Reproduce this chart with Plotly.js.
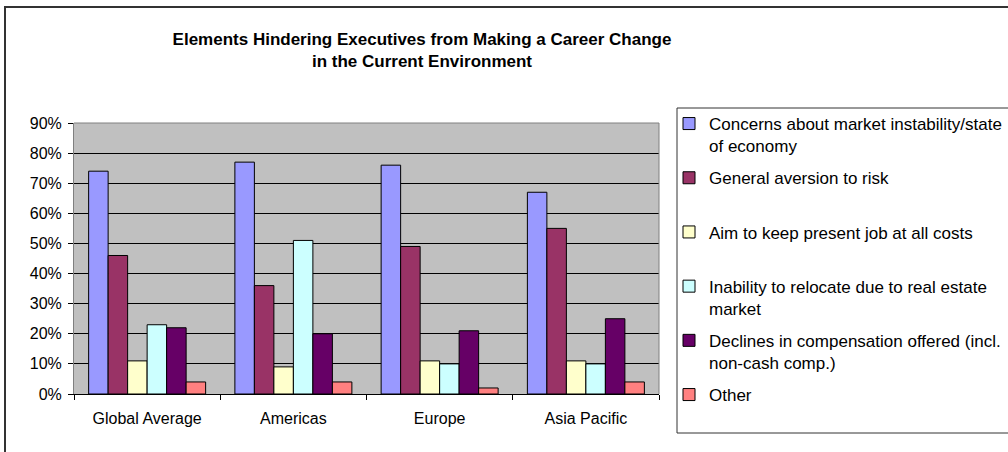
<!DOCTYPE html>
<html>
<head>
<meta charset="utf-8">
<script src="https://cdn.plot.ly/plotly-3.0.1.min.js"></script>
<style>
  html, body { margin: 0; padding: 0; background: #fff; }
  #chart { width: 1008px; height: 452px; }
</style>
</head>
<body>
<div id="chart"></div>
<script>
const categories = ['Global Average', 'Americas', 'Europe', 'Asia Pacific'];

const seriesNames = [
  'Concerns about market instability/state<br>of economy',
  'General aversion to risk<br> ',
  'Aim to keep present job at all costs<br> ',
  'Inability to relocate due to real estate<br>market',
  'Declines in compensation offered (incl.<br>non-cash comp.)',
  'Other<br> '
];

const concerns   = [0.74, 0.77, 0.76, 0.67];
const aversion   = [0.46, 0.36, 0.49, 0.55];
const keepJob    = [0.11, 0.09, 0.11, 0.11];
const relocate   = [0.23, 0.51, 0.10, 0.10];
const declines   = [0.22, 0.20, 0.21, 0.25];
const other      = [0.04, 0.04, 0.02, 0.04];

const seriesValues = [concerns, aversion, keepJob, relocate, declines, other];
const seriesColors = ['#9999FF', '#993366', '#FFFFCC', '#CCFFFF', '#660066', '#FF8080'];

const yTickVals = [0, 0.1, 0.2, 0.3, 0.4, 0.5, 0.6, 0.7, 0.8, 0.9];
const yTickText = ['0%', '10%', '20%', '30%', '40%', '50%', '60%', '70%', '80%', '90%'];

const FONT = 'Liberation Sans, Arial, sans-serif';

const traces = seriesValues.map((vals, i) => ({
  type: 'bar',
  x: categories,
  y: vals,
  name: seriesNames[i],
  legendgroup: 'g' + i,
  marker: { color: seriesColors[i], line: { color: '#000', width: 1 } },
  hoverinfo: 'x+y+name'
}));

// pixel geometry of plot area
const L = 74, R = 659, T = 123, B = 394;
const W = R - L, H = B - T;
const px = v => (v - L) / W;
const py = v => (B - v) / H;

const layout = {
  width: 1008,
  height: 452,
  margin: { l: L, r: 1008 - R, t: T, b: 452 - B, autoexpand: false },
  paper_bgcolor: '#fff',
  plot_bgcolor: '#C0C0C0',
  font: { family: FONT, size: 16, color: '#000' },
  title: {
    text: '<b>Elements Hindering Executives from Making a Career Change<br>in the Current Environment</b>',
    x: 422 / 1008,
    xanchor: 'center',
    y: 1 - 45 / 452,
    yanchor: 'top',
    font: { family: FONT, size: 17, color: '#000' }
  },
  barmode: 'group',
  bargap: 0.2,
  bargroupgap: 0,
  showlegend: true,
  legend: {
    x: px(669),
    xanchor: 'left',
    y: py(106),
    yanchor: 'top',
    bgcolor: 'rgba(0,0,0,0)',
    borderwidth: 0,
    font: { family: FONT, size: 17, color: '#000' },
    tracegroupgap: 7,
    valign: 'top',
    traceorder: 'grouped',
    maxheight: 452
  },
  xaxis: {
    type: 'category',
    showgrid: false,
    showline: true,
    linecolor: '#000',
    linewidth: 1,
    ticks: 'outside',
    tickson: 'boundaries',
    ticklen: 5,
    tickcolor: '#000',
    ticklabelstandoff: 10,
    tickfont: { family: FONT, size: 16, color: '#000' },
    zeroline: false,
    fixedrange: true
  },
  yaxis: {
    range: [0, 0.9],
    tickvals: yTickVals,
    ticktext: yTickText,
    showgrid: true,
    gridcolor: '#000',
    gridwidth: 1,
    showline: true,
    linecolor: '#808080',
    linewidth: 1,
    ticks: 'outside',
    ticklen: 5,
    tickcolor: '#000',
    ticklabelstandoff: 3,
    tickfont: { family: FONT, size: 16, color: '#000' },
    zeroline: false,
    fixedrange: true
  },
  shapes: [
    // gray plot-area frame (top and right)
    { type: 'line', xref: 'paper', yref: 'paper', x0: 0, x1: 1, y0: 1, y1: 1, line: { color: '#808080', width: 1 } },
    { type: 'line', xref: 'paper', yref: 'paper', x0: 1, x1: 1, y0: 0, y1: 1, line: { color: '#808080', width: 1 } },
    // legend frame
    { type: 'rect', xref: 'paper', yref: 'paper', x0: px(677), x1: px(1030), y0: py(433), y1: py(108), line: { color: '#333', width: 1 } },
    // outer chart frame
    { type: 'rect', xref: 'paper', yref: 'paper', x0: px(5), x1: px(1030), y0: py(470), y1: py(7), line: { color: '#333', width: 2 } }
  ]
};

Plotly.newPlot('chart', traces, layout, { displayModeBar: false, staticPlot: true });
</script>
</body>
</html>
